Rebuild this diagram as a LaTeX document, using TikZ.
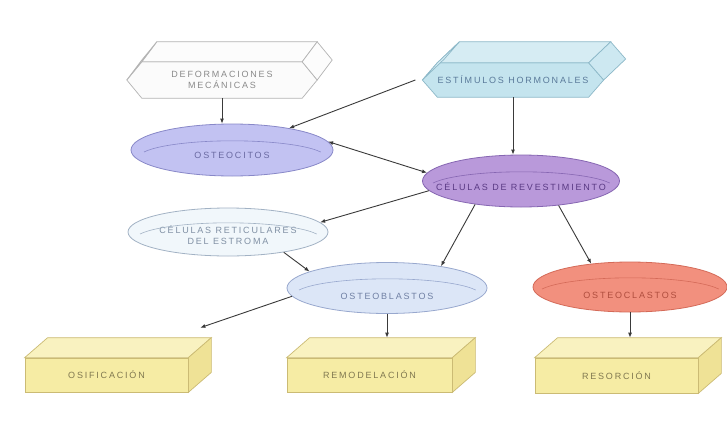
\documentclass[tikz,border=0pt]{standalone}
\usepackage{fontspec}
\setmainfont{Liberation Sans}
\newfontfamily\lblfont[LetterSpace=20]{Liberation Sans}
\usetikzlibrary{shapes.geometric,arrows.meta,backgrounds}

\definecolor{defface}{HTML}{FBFBFB}
\definecolor{defline}{HTML}{B4B4B4}
\definecolor{deftext}{HTML}{8A8A8A}
\definecolor{estface}{HTML}{C4E4EE}
\definecolor{esttop}{HTML}{D4EDF4}
\definecolor{estline}{HTML}{8CB8C8}
\definecolor{esttext}{HTML}{5A7A9A}
\definecolor{ostface}{HTML}{C2C2F2}
\definecolor{ostline}{HTML}{8888C8}
\definecolor{osttext}{HTML}{6A6AA2}
\definecolor{revface}{HTML}{B999DA}
\definecolor{revline}{HTML}{8666B2}
\definecolor{revtext}{HTML}{5A3A84}
\definecolor{retface}{HTML}{F1F7FB}
\definecolor{retline}{HTML}{A2B2C4}
\definecolor{rettext}{HTML}{8090A4}
\definecolor{blastface}{HTML}{DCE6F7}
\definecolor{blastline}{HTML}{98A8CE}
\definecolor{blasttext}{HTML}{7080A4}
\definecolor{clastface}{HTML}{F2907E}
\definecolor{clastline}{HTML}{D46A58}
\definecolor{clasttext}{HTML}{B04E3E}
\definecolor{boxfront}{HTML}{F6ECA4}
\definecolor{boxtop}{HTML}{F9F2C0}
\definecolor{boxside}{HTML}{EFE296}
\definecolor{boxline}{HTML}{CBBB74}
\definecolor{boxtext}{HTML}{807850}
\definecolor{arrowgrey}{HTML}{3A3A3A}

\tikzset{
  lbl/.style={font=\lblfont\fontsize{9}{10.5}\selectfont, align=center},
  cell/.style={ellipse, draw, line width=0.8pt, minimum width=200pt, minimum height=51pt, inner sep=0pt},
  rim/.style={line width=0.6pt},
  cuboid/.style={draw=boxline, fill=boxfront, line width=0.7pt, minimum width=163pt, minimum height=34pt, lbl, text=boxtext},
  prism/.style={lbl, minimum height=36pt, inner sep=0pt},
  link/.style={arrowgrey, line width=0.9pt, >={Latex[length=5pt,width=4pt]}},
}

% upper edge of the disk seen at a slant
\newcommand{\cellrim}[2]{\draw[rim,#2] ([shift={(-88,2)}]#1.center) arc[start angle=200,end angle=340,x radius=94,y radius=17];}

\begin{document}
\begin{tikzpicture}[x=1pt,y=-1pt]
    \useasboundingbox (0,0) rectangle (727,423);

    % stimuli
    \node[prism, minimum width=160pt, text=deftext] (def) at (222,80) {DEFORMACIONES\\MECÁNICAS};
    \node[prism, minimum width=145pt, minimum height=34pt, text=esttext] (est) at (513,80) {ESTÍMULOS HORMONALES};

    % cells
    \node[cell, minimum width=202pt, minimum height=52pt, draw=ostline, fill=ostface,
          label={[lbl, text=osttext, yshift=-5pt]center:OSTEOCITOS}] (ost) at (232,150) {};
    \node[cell, minimum width=197pt, minimum height=52pt, draw=revline, fill=revface,
          label={[lbl, text=revtext, yshift=-6pt]center:CÉLULAS DE REVESTIMIENTO}] (rev) at (521,181) {};
    \node[cell, minimum height=48pt, draw=retline, fill=retface,
          label={[lbl, text=rettext, yshift=-3pt]center:CÉLULAS RETICULARES\\DEL ESTROMA}] (ret) at (228,232) {};
    \node[cell, draw=blastline, fill=blastface,
          label={[lbl, text=blasttext, yshift=-8pt]center:OSTEOBLASTOS}] (blast) at (387,288) {};
    \node[cell, minimum width=194pt, minimum height=50pt, draw=clastline, fill=clastface,
          label={[lbl, text=clasttext, yshift=-8pt]center:OSTEOCLASTOS}] (clast) at (630,287) {};
    \cellrim{ost}{ostline}
    \cellrim{rev}{revline}
    \cellrim{ret}{retline}
    \cellrim{blast}{blastline}
    \cellrim{clast}{clastline}

    % results
    \node[cuboid] (osif) at (106.5,375) {OSIFICACIÓN};
    \node[cuboid, minimum width=165pt] (remod) at (369.5,375) {REMODELACIÓN};
    \node[cuboid, minimum height=35pt] (resorc) at (616.5,375.5) {RESORCIÓN};

    \begin{scope}[on background layer]
        \fill[white] (0,0) rectangle (727,423);
        \foreach \n/\dx/\dy/\t/\f/\c in {def/15/-20/15/defface/defline, est/22/-21/15/estface/estline}{
            \draw[draw=\c, fill=\f, line width=0.7pt] (\n.north west) -- (\n.north east) -- ([xshift=\t pt]\n.east)
                -- (\n.south east) -- (\n.south west) -- ([xshift=-\t pt]\n.west) -- cycle;
            \draw[draw=\c, fill=\f!70!white, line width=0.7pt] (\n.north west) -- ([shift={(\dx,\dy)}]\n.north west)
                -- ([shift={(\dx,\dy)}]\n.north east) -- (\n.north east) -- cycle;
            \draw[draw=\c, fill=\f!85!white, line width=0.7pt] (\n.north east) -- ([shift={(\dx,\dy)}]\n.north east)
                -- ([shift={(\dx+\t,\dy)}]\n.east) -- ([xshift=\t pt]\n.east) -- cycle;
            \draw[draw=\c, fill=\f!70!white, line width=0.7pt] ([xshift=-\t pt]\n.west) -- (\n.north west)
                -- ([shift={(\dx,\dy)}]\n.north west) -- ([shift={(\dx-\t,\dy)}]\n.west) -- cycle;
        }
        \foreach \b in {osif,remod,resorc}{
            \draw[draw=boxline, fill=boxtop, line width=0.7pt] (\b.north west) -- ([shift={(23,-20)}]\b.north west)
                -- ([shift={(23,-20)}]\b.north east) -- (\b.north east) -- cycle;
            \draw[draw=boxline, fill=boxside, line width=0.7pt] (\b.north east) -- ([shift={(23,-20)}]\b.north east)
                -- ([shift={(23,-20)}]\b.south east) -- (\b.south east) -- cycle;
        }
    \end{scope}

    % connectors
    \draw[link,->] (def.south) -- (def.south |- ost.north);
    \draw[link,->] (est.south) -- (est.south |- rev.north);
    \draw[link,->] ([xshift=-22pt]est.west) -- (ost);
    \draw[link,<->] (ost.5) -- (rev.175);
    \draw[link,->] (rev.186) -- (ret.6);
    \draw[link,->] (ret.-20) -- (blast.168);
    \draw[link,->] (rev.-153) -- (blast.22);
    \draw[link,->] (rev.-33) -- (clast.149);
    \draw[link,->] (blast.185) -- ([shift={(12,-30)}]osif.north east);
    \draw[link,->] (blast.south) -- ([yshift=20pt]blast.south |- remod.north);
    \draw[link,->] (clast.south) -- ([yshift=20pt]clast.south |- resorc.north);
\end{tikzpicture}
\end{document}
